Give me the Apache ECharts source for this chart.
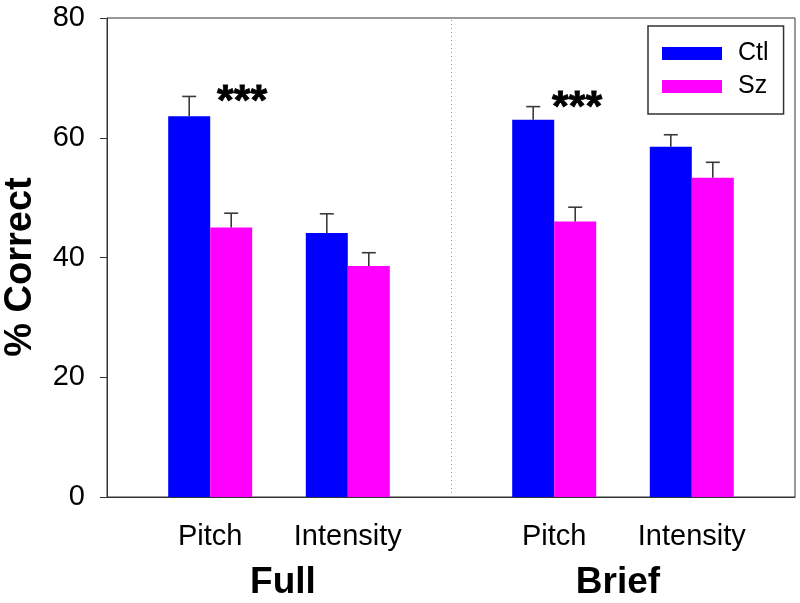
<!DOCTYPE html>
<html>
<head>
<meta charset="utf-8">
<script src="https://cdn.jsdelivr.net/npm/echarts@6/dist/echarts.min.js"></script>
<style>
html,body{margin:0;padding:0;background:#fff;}
#main{width:800px;height:603px;}
</style>
</head>
<body>
<div id="main"></div>
<script>
// ---- data ----
const groups = ['Full', 'Brief'];
const conditions = ['Pitch', 'Intensity', 'Pitch', 'Intensity'];
const seriesNames = ['Ctl', 'Sz'];
const ctlValues = [63.6, 44.1, 63.0, 58.5];
const szValues = [45.0, 38.6, 46.0, 53.3];
const ctlErrTop = [66.9, 47.3, 65.2, 60.5];
const szErrTop = [47.4, 40.8, 48.4, 55.9];
const significance = ['***', '', '***', ''];
const starLevel = [65.9, null, 64.9, null];
const yTicks = [0, 20, 40, 60, 80];
const yTitle = '% Correct';

// ---- layout ----
const totalSlots = 10;
const slotIndex = [1, 3, 6, 8];
const dividerSlot = 5;
const barW = 42;
const FONT = 'Liberation Sans, Arial, sans-serif';

const slotLabels = new Array(totalSlots).fill('');
slotIndex.forEach((s, i) => { slotLabels[s] = conditions[i]; });

function slotData(vals) {
  const arr = new Array(totalSlots).fill('-');
  slotIndex.forEach((s, i) => { arr[s] = vals[i]; });
  return arr;
}
function errData(vals, tops) {
  return slotIndex.map((s, i) => [s, vals[i], tops[i]]);
}
function errRender(offset) {
  return function (params, api) {
    const base = api.coord([api.value(0), api.value(1)]);
    const top = api.coord([api.value(0), api.value(2)]);
    const x = base[0] + offset;
    const style = { stroke: '#3a3a3a', lineWidth: 1.6 };
    return {
      type: 'group',
      children: [
        { type: 'line', shape: { x1: x, y1: base[1], x2: x, y2: top[1] }, style },
        { type: 'line', shape: { x1: x - 7, y1: top[1], x2: x + 7, y2: top[1] }, style }
      ]
    };
  };
}

const starOffsets = [[32, 0], [0, 0], [23, 0], [0, 0]];
const starLabelStyle = { show: true, position: 'inside', fontFamily: FONT, fontSize: 43, fontWeight: 'bold',
  color: '#000', textBorderWidth: 0.8, textBorderColor: '#000', opacity: 1 };
const starData = [];
significance.forEach((t, i) => {
  if (t) {
    starData.push({
      value: [slotIndex[i], starLevel[i]],
      label: Object.assign({}, starLabelStyle, { formatter: t, offset: starOffsets[i] })
    });
  }
});

const chart = echarts.init(document.getElementById('main'), null, { renderer: 'canvas' });
chart.setOption({
  backgroundColor: '#fff',
  animation: false,
  grid: { left: 107, right: 5, top: 18, bottom: 106, show: true, borderColor: '#333', borderWidth: 1, backgroundColor: 'transparent' },
  legend: {
    data: seriesNames,
    orient: 'vertical',
    left: 648, top: 26,
    padding: [15, 15, 15, 14],
    itemGap: 8,
    itemWidth: 60, itemHeight: 13,
    icon: 'rect',
    borderColor: '#333', borderWidth: 1.5,
    textStyle: { fontFamily: FONT, fontSize: 25, color: '#000', padding: [0, 0, 0, 11] }
  },
  xAxis: {
    type: 'category',
    data: slotLabels,
    boundaryGap: true,
    axisLine: { lineStyle: { color: '#333', width: 1 } },
    axisTick: {
      alignWithLabel: true, length: 8,
      interval: (idx) => slotLabels[idx] !== '',
      lineStyle: { color: '#333' }
    },
    axisLabel: { interval: 0, margin: 25, fontFamily: FONT, fontSize: 29, color: '#000' },
    splitLine: { show: false }
  },
  yAxis: {
    type: 'value',
    min: yTicks[0], max: yTicks[yTicks.length - 1], interval: yTicks[1] - yTicks[0],
    axisLine: { show: true, lineStyle: { color: '#333', width: 1 } },
    axisTick: { show: true, length: 7, lineStyle: { color: '#333' } },
    axisLabel: { margin: 22, fontFamily: FONT, fontSize: 29, color: '#000' },
    splitLine: { show: false }
  },
  series: [
    {
      type: 'custom', name: 'divider', silent: true, z: 1,
      data: [[dividerSlot, yTicks[0], yTicks[yTicks.length - 1]]],
      renderItem: function (params, api) {
        const bottom = api.coord([api.value(0), api.value(1)]);
        const top = api.coord([api.value(0), api.value(2)]);
        const x = Math.round(bottom[0] - api.size([1, 0])[0] / 2) + 0.5;
        return { type: 'line', shape: { x1: x, y1: bottom[1], x2: x, y2: top[1] },
          style: { stroke: '#999', lineWidth: 1, lineDash: [1, 3] } };
      }
    },
    { name: seriesNames[0], type: 'bar', data: slotData(ctlValues), barWidth: barW, barGap: '0%', itemStyle: { color: '#0000ff' } },
    { name: seriesNames[1], type: 'bar', data: slotData(szValues), barWidth: barW, barGap: '0%', itemStyle: { color: '#ff00ff' } },
    { type: 'custom', name: 'errCtl', data: errData(ctlValues, ctlErrTop), renderItem: errRender(-barW / 2), z: 5 },
    { type: 'custom', name: 'errSz', data: errData(szValues, szErrTop), renderItem: errRender(barW / 2), z: 5 },
    {
      type: 'scatter', name: 'sig', data: starData, symbolSize: 1, silent: true, z: 6,
      itemStyle: { color: 'rgba(0,0,0,0)', opacity: 1 },
      label: starLabelStyle,
      emphasis: { disabled: true }
    }
  ],
  graphic: [
    { type: 'text', x: 21, y: 267, rotation: Math.PI / 2,
      style: { text: yTitle, font: 'bold 38px ' + FONT, fill: '#000', align: 'center', verticalAlign: 'middle' } },
    { type: 'text', x: 283, y: 583,
      style: { text: groups[0], font: 'bold 37px ' + FONT, fill: '#000', align: 'center', verticalAlign: 'middle' } },
    { type: 'text', x: 618, y: 583,
      style: { text: groups[1], font: 'bold 37px ' + FONT, fill: '#000', align: 'center', verticalAlign: 'middle' } }
  ]
});
</script>
</body>
</html>
